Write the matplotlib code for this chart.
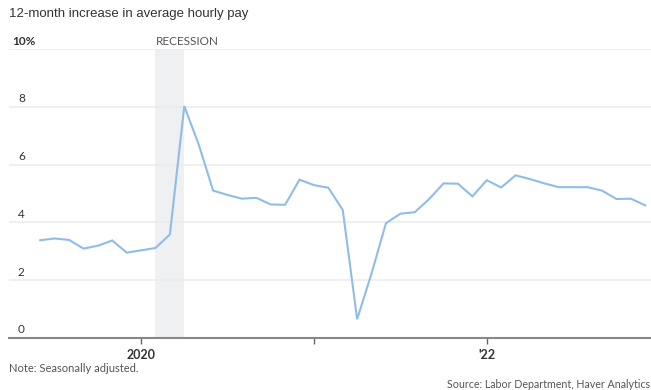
import matplotlib
matplotlib.use("Agg")
import matplotlib.pyplot as plt

months = ["2019-06", "2019-07", "2019-08", "2019-09", "2019-10", "2019-11", "2019-12",
          "2020-01", "2020-02", "2020-03", "2020-04", "2020-05", "2020-06", "2020-07",
          "2020-08", "2020-09", "2020-10", "2020-11", "2020-12",
          "2021-01", "2021-02", "2021-03", "2021-04", "2021-05", "2021-06", "2021-07",
          "2021-08", "2021-09", "2021-10", "2021-11", "2021-12",
          "2022-01", "2022-02", "2022-03", "2022-04", "2022-05", "2022-06", "2022-07",
          "2022-08", "2022-09", "2022-10", "2022-11", "2022-12"]
pay_increase = [3.38, 3.44, 3.39, 3.09, 3.19, 3.37, 2.95,
                3.03, 3.11, 3.58, 8.03, 6.70, 5.10, 4.95,
                4.82, 4.85, 4.62, 4.61, 5.48,
                5.29, 5.20, 4.43, 0.64, 2.23, 3.97, 4.30,
                4.35, 4.81, 5.35, 5.34, 4.90,
                5.46, 5.21, 5.63, 5.50, 5.35, 5.22, 5.22,
                5.22, 5.10, 4.81, 4.82, 4.59]
recession = ("2020-02", "2020-04")
y_ticks = [0, 2, 4, 6, 8, 10]
y_labels = ["0", "2", "4", "6", "8", "10%"]
x_ticks = ["2020-01", "2021-01", "2022-01"]
x_labels = ["2020", "", "'22"]


def m_index(s):
    y, m = s.split("-")
    return (int(y) - 2020) * 12 + int(m) - 1


xs = [m_index(m) for m in months]

W, H = 651, 390
fig = plt.figure(figsize=(W / 100, H / 100), dpi=100)
left_px, right_px, top_px, bottom_px = 9, 651, 49.3, 337.7
ax = fig.add_axes([left_px / W, 1 - bottom_px / H, (right_px - left_px) / W,
                   (bottom_px - top_px) / H])
ax.set_xlim(-9.17, 35.4)
ax.set_ylim(0, 10)

for v in y_ticks[1:]:
    ax.axhline(v, color="#ececec", lw=1.2, zorder=1)

ax.axvspan(m_index(recession[0]), m_index(recession[1]), color="#eff0f2", lw=0, zorder=0)

ax.plot(xs, pay_increase, color="#8fbde6", lw=1.5, zorder=3, solid_joinstyle="miter")

for s in ax.spines.values():
    s.set_visible(False)
ax.axhline(0, color="#888888", lw=1.5, zorder=4, clip_on=False)
ax.set_yticks([])
ax.set_xticks([m_index(t) for t in x_ticks])
ax.set_xticklabels(x_labels, fontfamily="Lato", fontsize=9, fontweight="bold", color="#333333")
ax.tick_params(axis="x", length=4, width=1, color="#666666", pad=4)

for v, lab in zip(y_ticks, y_labels):
    xoff = 12 if lab.endswith("%") else 18
    fig.text(xoff / W, 1 - (bottom_px - v * (bottom_px - top_px) / 10 - 8) / H, lab,
             fontfamily="Lato", fontsize=8.5, fontweight="bold" if lab.endswith("%") else "normal",
             color="#333333", va="center", ha="left")

fig.text(156 / W, 1 - 41.5 / H, "RECESSION", fontfamily="Lato", fontsize=8.5,
         color="#555555", va="center", ha="left")
fig.text(9 / W, 1 - 14 / H, "12-month increase in average hourly pay",
         fontfamily="Liberation Sans", fontsize=9.5, color="#333333", va="center", ha="left")
fig.text(9 / W, 1 - 369 / H, "Note: Seasonally adjusted.", fontfamily="Lato", fontsize=8,
         color="#555555", va="center", ha="left")
fig.text(650 / W, 1 - 384 / H, "Source: Labor Department, Haver Analytics", fontfamily="Lato",
         fontsize=7.7, color="#555555", va="center", ha="right")

fig.savefig("out.png", dpi=100)
